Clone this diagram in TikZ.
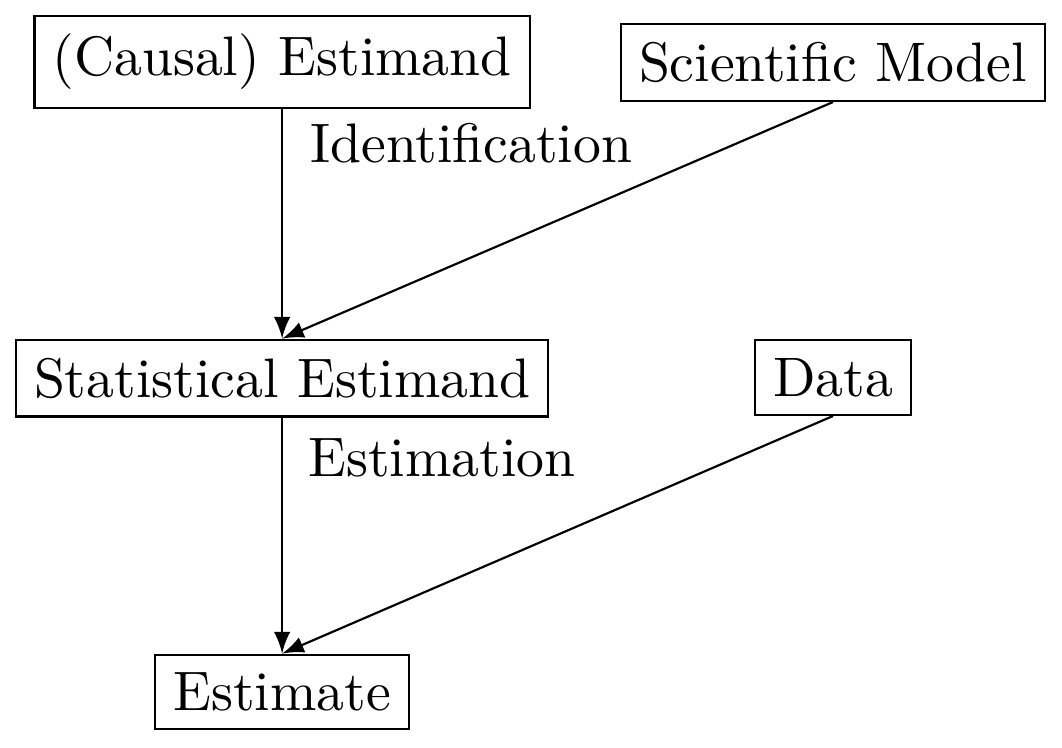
\documentclass[tikz,border=0pt]{standalone}
\usepackage{amsmath}
\usepackage{tikz}
\usetikzlibrary{arrows}

\tikzset{every node/.style={font=\fontsize{10.25}{12.3}\selectfont},
    box/.style={draw}}

\begin{document}
\begin{tikzpicture}
    \useasboundingbox (0,0) rectangle (6.874,-4.841);
    % Boxes
    \node[box] (causal) at (1.826,-0.401) {(Causal) Estimand};
    \node[box] (model) at (5.392,-0.405) {Scientific Model};
    \node[box] (stat) at (1.826,-2.447) {Statistical Estimand};
    \node[box] (data) at (5.392,-2.443) {Data};
    \node[box] (est) at (1.826,-4.479) {Estimate};
    % Arrows
    \draw[-latex] (causal) -- (stat.north);
    \draw[-latex] (model.south) -- (stat.north);
    \draw[-latex] (stat) -- (est.north);
    \draw[-latex] (data.south) -- (est.north);
    \node[right] (ident) at (1.885,-0.929) {Identification};
    \node[right] (estim) at (1.872,-2.961) {Estimation};
\end{tikzpicture}
\end{document}
